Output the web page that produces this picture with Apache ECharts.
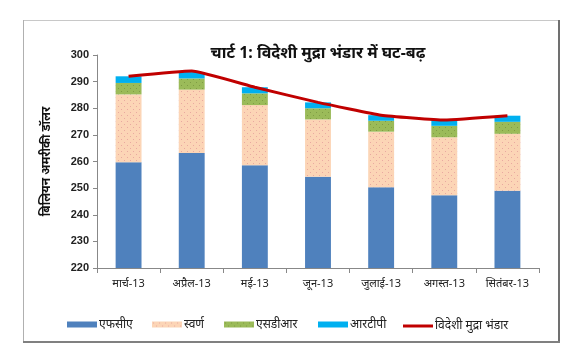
<!DOCTYPE html>
<html>
<head>
<meta charset="utf-8">
<script src="https://cdn.jsdelivr.net/npm/echarts@6/dist/echarts.min.js"></script>
<style>
html,body{margin:0;padding:0;background:#fff;}
#c{width:575px;height:356px;}
</style>
</head>
<body>
<div id="c"></div>
<script>
var categories = ['मार्च-13','अप्रैल-13','मई-13','जून-13','जुलाई-13','अगस्त-13','सितंबर-13'];
var fca   = [259.7, 263.2, 258.6, 254.3, 250.3, 247.3, 249.0];
var gold  = [25.5, 23.8, 22.6, 21.5, 20.9, 21.8, 21.4];
var sdr   = [4.3, 4.2, 4.4, 4.2, 4.1, 4.3, 4.5];
var rtp   = [2.5, 2.4, 2.3, 2.2, 2.1, 2.2, 2.3];
var total = [292.0, 294.0, 287.9, 282.2, 277.4, 275.6, 277.2];
var seriesNames = ['एफसीए','स्वर्ण','एसडीआर','आरटीपी','विदेशी मुद्रा भंडार'];
var yTicks = {min: 220, max: 300, interval: 10};

function dotPattern(bg, dot){
  var cv = document.createElement('canvas');
  cv.width = 6; cv.height = 6;
  var g = cv.getContext('2d');
  g.fillStyle = bg; g.fillRect(0,0,6,6);
  g.fillStyle = dot;
  g.fillRect(1,1,1,1); g.fillRect(4,4,1,1);
  return {image: cv, repeat: 'repeat'};
}
var cFca = '#4f81bd';
var cGold = dotPattern('#fcd5b6', '#e9a9a0');
var cSdr = dotPattern('#9bbb59', '#7f9c44');
var cRtp = '#00b0f0';
var cLine = '#c00000';

var chart = echarts.init(document.getElementById('c'), null, {renderer:'canvas'});
var font = '"Noto Sans", "Liberation Sans", sans-serif';

function leg(name, left, isLine){
  return {
    data:[{name:name, icon:'rect'}],
    left:left, top: isLine ? 320 : 318.5, itemWidth:30, itemHeight: isLine ? 3 : 6, itemGap:0,
    textStyle:{fontSize:12, color:'#222', fontFamily:font, padding:[0,0,0,-3]},
    selectedMode:false, padding:0
  };
}

chart.setOption({
  animation:false,
  backgroundColor:'#fff',
  title:{
    text:'चार्ट 1: विदेशी मुद्रा भंडार में घट-बढ़',
    left:313, textAlign:'center', top:40,
    textStyle:{fontSize:16, fontWeight:'bold', color:'#111', fontFamily:font}
  },
  graphic:[
    {type:'line', shape:{x1:23,y1:20.5,x2:559,y2:20.5}, style:{stroke:'#c8c8c8', lineWidth:1}},
    {type:'line', shape:{x1:23.5,y1:20,x2:23.5,y2:342}, style:{stroke:'#b0b0b0', lineWidth:1}},
    {type:'line', shape:{x1:559,y1:20,x2:559,y2:343}, style:{stroke:'#707070', lineWidth:2}},
    {type:'line', shape:{x1:23,y1:342,x2:560,y2:342}, style:{stroke:'#808080', lineWidth:2}}
  ],
  legend:[
    leg(seriesNames[0], 67),
    leg(seriesNames[1], 152),
    leg(seriesNames[2], 224),
    leg(seriesNames[3], 318),
    leg(seriesNames[4], 403, true)
  ],
  grid:{left:97, right:36, top:55, bottom:88},
  xAxis:{
    type:'category', data:categories,
    axisLine:{lineStyle:{color:'#888'}},
    axisTick:{show:true, length:5, lineStyle:{color:'#888'}},
    axisLabel:{fontSize:11, color:'#222', margin:10, fontFamily:font}
  },
  yAxis:{
    type:'value', min:yTicks.min, max:yTicks.max, interval:yTicks.interval,
    name:'बिलियन अमरीकी डॉलर', nameLocation:'middle', nameGap:44, nameRotate:90,
    nameTextStyle:{fontSize:12, fontWeight:'bold', color:'#111', fontFamily:font},
    axisLine:{show:true, lineStyle:{color:'#888'}},
    axisTick:{show:true, length:4, lineStyle:{color:'#888'}},
    splitLine:{show:false},
    axisLabel:{fontSize:11, fontWeight:'bold', color:'#222', margin:8, fontFamily:'"Liberation Sans", sans-serif'}
  },
  series:[
    {name:seriesNames[0], type:'bar', stack:'a', data:fca, barWidth:'41%', itemStyle:{color:cFca}},
    {name:seriesNames[1], type:'bar', stack:'a', data:gold, itemStyle:{color:cGold}},
    {name:seriesNames[2], type:'bar', stack:'a', data:sdr, itemStyle:{color:cSdr}},
    {name:seriesNames[3], type:'bar', stack:'a', data:rtp, itemStyle:{color:cRtp}},
    {name:seriesNames[4], type:'line', data:total, smooth:0.12, symbol:'none', z:5,
     lineStyle:{color:cLine, width:3}, itemStyle:{color:cLine}}
  ]
});
</script>
</body>
</html>
